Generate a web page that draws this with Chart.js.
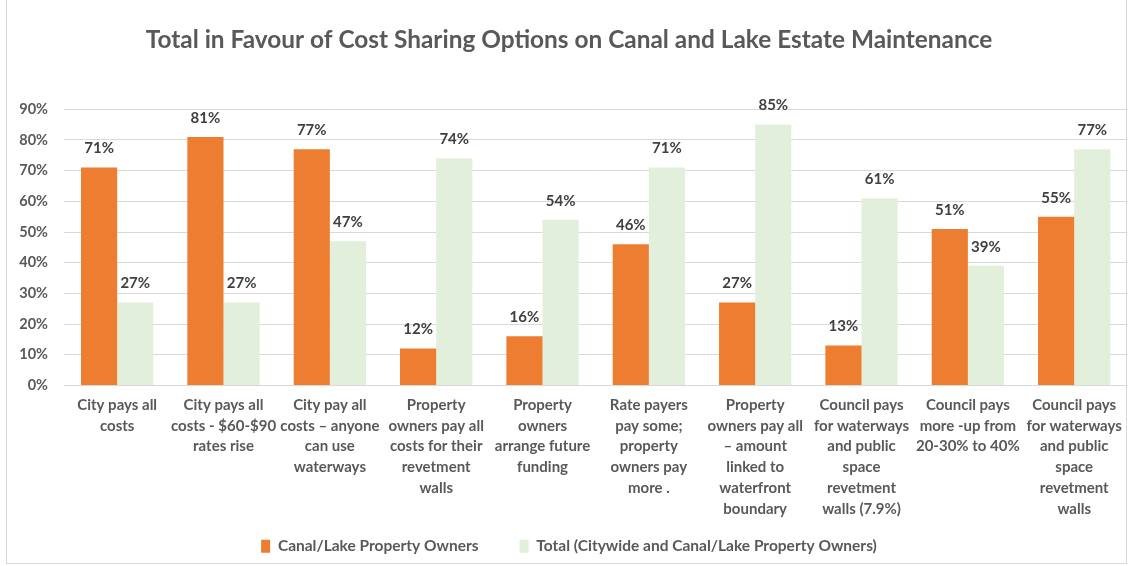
<!DOCTYPE html>
<html>
<head>
<meta charset="utf-8">
<script src="https://cdn.jsdelivr.net/npm/chart.js@4.4.1/dist/chart.umd.min.js"></script>
<style>
  html, body { margin: 0; padding: 0; background: #fff; }
  .frame {
    position: absolute; left: 6px; top: 0; width: 1121px; height: 564px;
    border: 1px solid #d9d9d9; border-top: none; box-sizing: border-box;
  }
  .wrap { position: absolute; left: 0; top: 0; width: 1131px; height: 566px; }
</style>
</head>
<body>
<div class="frame"></div>
<div class="wrap"><canvas id="chart" width="1131" height="566"></canvas></div>
<script>
// =================== DATA ===================
const categories = [
  ["City pays all", "costs"],
  ["City pays all", "costs - $60-$90", "rates rise"],
  ["City pay all", "costs \u2013 anyone", "can use", "waterways"],
  ["Property", "owners pay all", "costs for their", "revetment", "walls"],
  ["Property", "owners", "arrange future", "funding"],
  ["Rate payers", "pay some;", "property", "owners pay", "more ."],
  ["Property", "owners pay all", "\u2013 amount", "linked to", "waterfront", "boundary"],
  ["Council pays", "for waterways", "and public", "space", "revetment", "walls (7.9%)"],
  ["Council pays", "more -up from", "20-30% to 40%"],
  ["Council pays", "for waterways", "and public", "space", "revetment", "walls"]
];
const canalLakeOwners = [71, 81, 77, 12, 16, 46, 27, 13, 51, 55];
const totalCitywide = [27, 27, 47, 74, 54, 71, 85, 61, 39, 77];
const seriesNames = ["Canal/Lake Property Owners", "Total (Citywide and Canal/Lake Property Owners)"];
const yTicks = [0, 10, 20, 30, 40, 50, 60, 70, 80, 90];

const FONT = "Lato, 'Open Sans', sans-serif";

// value labels above each bar
const barLabels = {
  id: "barLabels",
  afterDatasetsDraw(chart) {
    const ctx = chart.ctx;
    ctx.save();
    ctx.font = "bold 15px " + FONT;
    ctx.fillStyle = "#404040";
    ctx.textAlign = "center";
    ctx.textBaseline = "middle";
    chart.data.datasets.forEach((ds, i) => {
      chart.getDatasetMeta(i).data.forEach((bar, j) => {
        ctx.fillText(ds.data[j] + "%", bar.x, bar.y - 19);
      });
    });
    ctx.restore();
  }
};

new Chart(document.getElementById("chart"), {
  type: "bar",
  data: {
    labels: categories,
    datasets: [
      { label: seriesNames[0], data: canalLakeOwners, backgroundColor: "#ED7D31",
        categoryPercentage: 0.68, barPercentage: 1.0 },
      { label: seriesNames[1], data: totalCitywide, backgroundColor: "#E2EFDA",
        categoryPercentage: 0.68, barPercentage: 1.0 }
    ]
  },
  options: {
    responsive: false,
    animation: false,
    layout: { padding: { left: 10, right: 3, top: 0, bottom: 2 } },
    plugins: {
      title: {
        display: true,
        text: "Total in Favour of Cost Sharing Options on Canal and Lake Estate Maintenance",
        color: "#595959",
        font: { family: FONT, size: 24.4, weight: "bold" },
        padding: { top: 26, bottom: 54 }
      },
      legend: {
        position: "bottom",
        labels: {
          color: "#595959",
          font: { family: FONT, size: 15.5, weight: "bold" },
          boxWidth: 9, boxHeight: 13, padding: 10,
          generateLabels(chart) {
            // extra gap after the first entry
            const items = Chart.defaults.plugins.legend.labels.generateLabels(chart);
            items[0].text += "\u2003\u2003\u2002";
            return items;
          }
        }
      },
      tooltip: { enabled: false }
    },
    scales: {
      x: {
        grid: { display: false, drawTicks: false },
        border: { display: false },
        ticks: {
          color: "#595959",
          font: { family: FONT, size: 15, weight: "bold", lineHeight: 1.39 },
          maxRotation: 0, autoSkip: false, padding: 9
        }
      },
      y: {
        min: 0, max: 90,
        afterFit(scale) { scale.width = 54; },
        afterBuildTicks(scale) { scale.ticks = yTicks.map(v => ({ value: v })); },
        grid: { color: "#d9d9d9", drawTicks: false },
        border: { display: false },
        ticks: {
          color: "#595959",
          font: { family: FONT, size: 14.5, weight: "bold" },
          padding: 16,
          callback: v => v + "%"
        }
      }
    }
  },
  plugins: [barLabels]
});
</script>
</body>
</html>
